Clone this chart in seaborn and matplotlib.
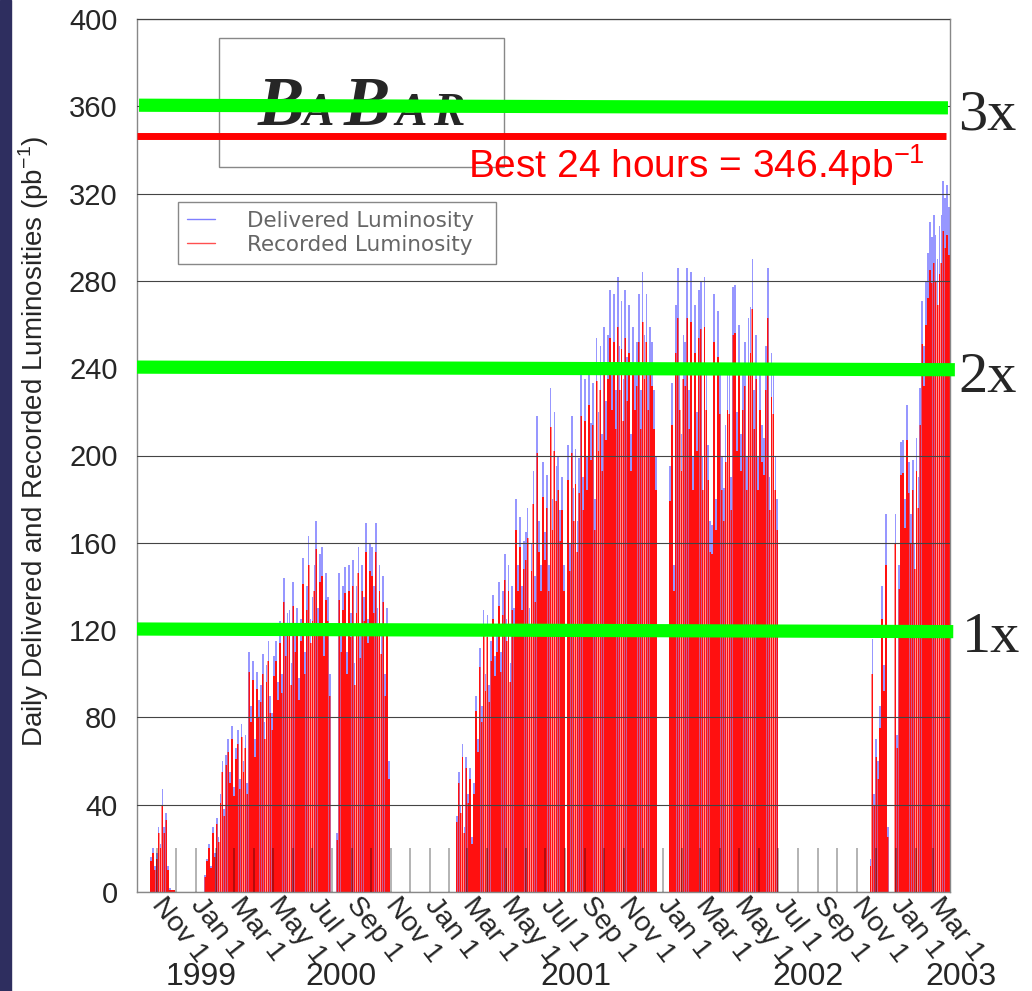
import numpy as np
import pandas as pd
import matplotlib
matplotlib.use("Agg")
import matplotlib.pyplot as plt
import matplotlib.dates as mdates
import matplotlib.transforms as mtransforms
from matplotlib.patches import Rectangle
from matplotlib.lines import Line2D
import seaborn as sns

# --- data: daily luminosity summed in 3-day bins, per running period ---
BIN_DAYS = 3

run_starts = ["1999-10-21", "2000-01-14", "2000-08-08", "2001-02-11",
              "2001-08-04", "2002-01-11", "2002-11-21", "2002-12-30"]

deliv_1999 = [16, 20, 12, 18, 30, 22, 47, 30, 36, 12, 2, 1, 1]
rec_1999 = [14, 18, 10, 15, 27, 20, 40, 27, 33, 10, 1, 1, 1]

deliv_2000a = [8, 15, 22, 12, 30, 18, 34, 25,
               45, 60, 38, 63, 70, 55, 76, 48,
               66, 74, 52, 77, 60, 72, 50,
               110, 85, 106, 70, 101, 88, 95,
               109, 78, 104, 115, 90, 82, 108,
               115, 96, 124, 100, 144, 118, 128,
               129, 105, 142, 120, 130, 98, 125,
               153, 110, 140, 163, 125, 135, 150,
               170, 130, 155,
               158, 120, 146, 135, 100]
rec_2000a = [7, 14, 20, 11, 27, 16, 31, 23,
             41, 55, 35, 58, 64, 50, 70, 44,
             61, 68, 47, 71, 55, 66, 45,
             101, 78, 97, 62, 93, 80, 87,
             100, 70, 96, 106, 82, 74, 99,
             106, 88, 114, 91, 133, 108, 118,
             118, 95, 131, 110, 120, 88, 115,
             141, 100, 129, 150, 114, 124, 138,
             157, 118, 142,
             145, 108, 134, 124, 90]

deliv_2000b = [27, 146, 120, 140, 149, 110, 150, 128, 152, 105, 140, 158, 118, 150,
               135, 169, 125, 160, 158, 140, 169, 130, 150, 120, 145, 100, 130, 60]
rec_2000b = [24, 134, 110, 129, 137, 100, 138, 117, 140, 95, 128, 146, 107, 138,
             124, 156, 114, 147, 145, 128, 156, 119, 138, 109, 133, 90, 119, 52]

deliv_2001a = [35, 55, 40, 68, 30, 62, 45, 57, 25, 50,
               90, 70, 112, 85, 129, 100, 127, 95, 115, 136, 108,
               120, 142, 110, 138, 155, 125, 150, 105, 140, 130,
               180, 150, 172, 140, 161, 165, 176, 130, 160, 193, 145, 218, 170, 150,
               197, 165, 191, 150, 231, 180, 220, 195, 200, 175, 190, 150]
rec_2001a = [32, 50, 36, 62, 27, 57, 41, 52, 22, 45,
             83, 64, 103, 78, 119, 92, 117, 87, 106, 125, 99,
             110, 131, 101, 127, 143, 115, 138, 96, 129, 119,
             166, 138, 158, 129, 148, 152, 162, 119, 147, 178, 133, 201, 156, 138,
             181, 152, 176, 138, 213, 166, 202, 179, 184, 161, 175, 138]

deliv_2001b = [205, 160, 218, 185, 203, 170, 199, 237, 190, 235,
               200, 242, 215, 233, 180, 254, 220, 250, 210,
               259, 225, 255, 276, 240, 274, 230, 282, 250, 271, 235,
               276, 245, 269, 210, 259, 240, 252, 274, 230, 284, 255,
               274, 240, 259, 252, 230, 200]
rec_2001b = [189, 147, 201, 170, 187, 156, 183, 218, 175, 216,
             184, 223, 198, 214, 166, 234, 202, 230, 193,
             238, 207, 235, 254, 221, 252, 212, 259, 230, 249, 216,
             254, 225, 247, 193, 238, 221, 232, 252, 212, 261, 235,
             252, 221, 238, 232, 212, 184]

deliv_2002a = [195, 233, 150, 269, 286, 240,
               210, 255, 252, 286, 230, 284, 200,
               269, 220, 276, 280, 200, 282, 240, 205, 170, 168,
               274, 180, 266, 238, 200, 185, 214,
               240, 238, 190, 277, 278, 220, 260, 210, 240,
               252, 200, 263, 268, 290, 230, 255, 200, 240,
               214, 208, 250, 286, 190, 247, 238, 200, 180]
rec_2002a = [179, 214, 138, 247, 263, 221,
             193, 235, 232, 263, 212, 261, 184,
             247, 202, 254, 258, 184, 259, 221, 189, 156, 155,
             252, 166, 245, 219, 184, 170, 197,
             221, 219, 175, 255, 256, 202, 239, 193, 221,
             232, 184, 242, 247, 267, 212, 235, 184, 221,
             197, 191, 230, 263, 175, 227, 219, 184, 166]

deliv_2002b = [15, 116, 45, 70, 60, 85, 140, 104, 173, 30]
rec_2002b = [12, 100, 40, 62, 52, 75, 125, 92, 150, 25]

deliv_2003 = [173, 72, 150, 206, 207, 180, 223, 197, 173, 198, 160, 208, 190, 231,
              271, 250, 280, 293, 307, 300, 310, 301, 290, 305, 310, 326, 318, 324, 314]
rec_2003 = [160, 66, 139, 191, 192, 167, 207, 183, 160, 184, 148, 193, 176, 214,
            251, 232, 260, 272, 285, 279, 288, 280, 269, 283, 288, 303, 295, 301, 292]

deliv_runs = [deliv_1999, deliv_2000a, deliv_2000b, deliv_2001a,
              deliv_2001b, deliv_2002a, deliv_2002b, deliv_2003]
rec_runs = [rec_1999, rec_2000a, rec_2000b, rec_2001a,
            rec_2001b, rec_2002a, rec_2002b, rec_2003]

best_24h = 346.4
goal_levels = [120, 240, 360]
goal_labels = ["1x", "2x", "3x"]
year_labels = ["1999", "2000", "2001", "2002", "2003"]

# --- build table ---
rows = []
for start, d, r in zip(run_starts, deliv_runs, rec_runs):
    t0 = mdates.datestr2num(start)
    for i, (dv, rv) in enumerate(zip(d, r)):
        rows.append((t0 + BIN_DAYS * i, dv, rv))
df = pd.DataFrame(rows, columns=["day", "delivered", "recorded"])
edges = np.unique(np.concatenate([df["day"].values, df["day"].values + BIN_DAYS]))
edges = [float(e) for e in edges]

# --- figure ---
sns.set_style("white")
plt.rcParams["font.family"] = ["Liberation Sans", "DejaVu Sans"]

W, H = 1032, 991
def fx(p):
    return p / W
def fy(p):
    return 1 - p / H

fig = plt.figure(figsize=(W / 100, H / 100), dpi=100)
fig.patches.append(Rectangle((0, 0), fx(11), 1, transform=fig.transFigure,
                             color="#2e2e5f", zorder=0))
ax = fig.add_axes([fx(137), fy(892), fx(950) - fx(137), fy(19) - fy(892)])

# delivered (blue, shows above the recorded bars)
sns.histplot(data=df, x="day", weights="delivered", bins=edges, color="#3030ff",
             alpha=0.5, linewidth=0, shrink=0.9, ax=ax)
# recorded: pale full-width layer + solid narrower bars gives the streaky look
sns.histplot(data=df, x="day", weights="recorded", bins=edges, color="#ff2020",
             alpha=0.5, linewidth=0, ax=ax)
sns.histplot(data=df, x="day", weights="recorded", bins=edges, color="#ff1010",
             alpha=1.0, linewidth=0, shrink=0.7, ax=ax)

t_left = mdates.datestr2num("1999-10-01") - 0.3
ax.set_xlim(t_left, t_left + 813 / 0.6385)
ax.set_ylim(0, 400)

# y axis
ax.set_yticks(np.arange(0, 401, 40))
ax.tick_params(axis="y", direction="in", length=4, color="#888888", pad=14, labelsize=21)
ax.set_axisbelow(False)
ax.yaxis.grid(True, color="#444444", linewidth=0.8)
ax.set_ylabel("")
ax.set_xlabel("")
for s in ax.spines.values():
    s.set_color("#888888")
    s.set_linewidth(1)

# month ticks
months = pd.date_range("1999-11-01", "2003-03-01", freq="MS")
ax.vlines(mdates.date2num(months), 0, 20, color="#000000", alpha=0.35, lw=1.2, zorder=3)
lab_months = months[::2]
ax.set_xticks(mdates.date2num(lab_months))
ax.set_xticklabels([f"{m.strftime('%b')} 1" for m in lab_months], fontsize=20.5,
                   rotation=-52, ha="left", va="center", rotation_mode="anchor")
ax.tick_params(axis="x", length=0, pad=6)
ax.xaxis.grid(False)

# year labels
for lab, px in zip(year_labels, [201, 341, 576, 808, 961]):
    fig.text(fx(px), fy(985), lab, fontsize=23, ha="center", va="baseline")

fig.text(fx(34), fy(441), "Daily Delivered and Recorded Luminosities (pb$^{\\mathregular{-1}}$)",
         rotation=90, fontsize=20, ha="center", va="center")

# BaBar logo box
ax.add_artist(Rectangle((fx(219), fy(167)), fx(504) - fx(219), fy(38) - fy(167),
                        transform=fig.transFigure, fill=False, ec="#888888", lw=1,
                        clip_on=False, zorder=2))
for ch, px, sz in zip("BABAR", [258, 302, 344, 395, 433], [50, 34, 50, 34, 34]):
    ax.text(fx(px), fy(125), ch, transform=fig.transFigure, fontsize=sz,
            family="Liberation Serif", weight="bold", style="italic",
            ha="left", va="baseline", zorder=3)

# legend
handles = [Line2D([], [], color="#7f7fff", lw=1), Line2D([], [], color="#ff5050", lw=1)]
leg = ax.legend(handles, ["Delivered Luminosity  ", "Recorded Luminosity  "],
                loc="upper left", bbox_to_anchor=((178 - 137) / 813, (892 - 202) / 873),
                prop={"family": "DejaVu Sans", "size": 15.5}, labelcolor="#666666",
                frameon=True, fancybox=False, edgecolor="#888888", framealpha=1,
                borderpad=0.4, handlelength=1.3, handletextpad=1.5,
                labelspacing=0.2, borderaxespad=0)
leg.get_frame().set_linewidth(1)

# best day and goal lines
trans = mtransforms.blended_transform_factory(ax.transAxes, ax.transData)
ax.plot([0, 0.995], [best_24h, best_24h], color="#ff0000", lw=5,
        transform=trans, clip_on=False, zorder=5, solid_capstyle="butt")
ax.text((468 - 137) / 813, best_24h - 19, "Best 24 hours = %.1fpb$^{\\mathregular{-1}}$" % best_24h,
        transform=trans, color="#ff0000", fontsize=28, ha="left", va="baseline", zorder=6)

green_x = {120: [0, 1.004], 240: [0, 1.006], 360: [0.0025, 0.9975]}
for lvl, lab in zip(goal_levels, goal_labels):
    ax.plot(green_x[lvl], [lvl + 0.5, lvl - 0.7], color="#00ff00", lw=9.5,
            transform=trans, clip_on=False, zorder=6, solid_capstyle="butt")
for lab, px, py in zip(goal_labels, [962, 958, 958], [652, 392, 130]):
    fig.text(fx(px), fy(py), lab, fontsize=42, family="Liberation Serif",
             ha="left", va="baseline")

fig.savefig("out.png", dpi=100)
